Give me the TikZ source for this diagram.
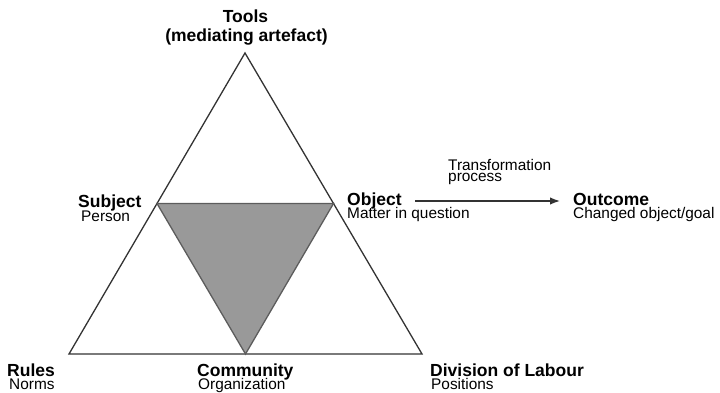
\documentclass[tikz,border=0pt]{standalone}
\usepackage{fontspec}
\setmainfont{Liberation Sans}
\usetikzlibrary{calc,arrows.meta}
\definecolor{edge}{HTML}{333333}
\definecolor{core}{HTML}{999999}
\begin{document}
\begin{tikzpicture}[x=1pt,y=-1pt,
  head/.style={anchor=base west,inner sep=0pt,font=\fontsize{17.5}{17.5}\selectfont\bfseries},
  sub/.style={anchor=base west,inner sep=0pt,font=\fontsize{15.4}{15.4}\selectfont},
  outer/.style={draw=edge,line width=1.3pt,line join=miter},
  inner/.style={draw=edge!80,fill=core,line width=1.3pt,line join=miter},
  flow/.style={draw=edge,line width=1.5pt,-{Latex[length=10pt,width=7.5pt]}}]
\useasboundingbox (0,0) rectangle (720,393);

% corners of the activity triangle
\coordinate (T) at (245,53);
\coordinate (L) at (69,354);
\coordinate (R) at (422,354);
% midpoints form the shaded inner triangle
\coordinate (ML) at ($(T)!0.5!(L)$);
\coordinate (MR) at ($(T)!0.5!(R)$);
\coordinate (MB) at ($(L)!0.5!(R)$);

\draw[outer] (T) -- (L) -- (R) -- cycle;
\draw[inner] (ML) -- (MR) -- (MB) -- cycle;

% labels
\node[head,anchor=base] (tools) at (245.5,23) {Tools};
\node[head,anchor=base] (tools2) at (246.5,42) {(mediating artefact)};

\node[head] (subj) at (78,207) {Subject};
\node[sub] (subj2) at (81,221) {Person};

\node[head] (obj) at (347,205) {Object};
\node[sub] (obj2) at (347,218) {Matter in question};

\node[sub] (trans) at (448,170) {Transformation};
\node[sub] (trans2) at (448,181) {process};

\node[head] (outc) at (573,205) {Outcome};
\node[sub] (outc2) at (573,218) {Changed object/goal};

\node[head] (rules) at (7,376) {Rules};
\node[sub] (rules2) at (9,389) {Norms};

\node[head] (comm) at (197,376) {Community};
\node[sub] (comm2) at (198,389) {Organization};

\node[head] (div) at (430,376) {Division of Labour};
\node[sub] (div2) at (431,389) {Positions};

% transformation arrow from object to outcome
\coordinate (a1) at (415,201);
\coordinate (a2) at (560,201);
\draw[flow] (a1) -- (a2);
\end{tikzpicture}
\end{document}
